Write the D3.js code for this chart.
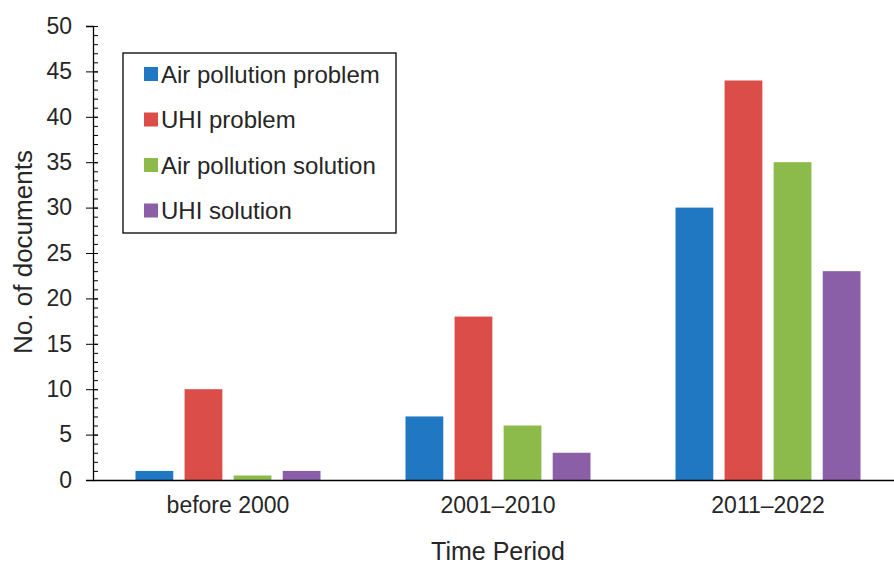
<!DOCTYPE html>
<html>
<head>
<meta charset="utf-8">
<script src="https://cdn.jsdelivr.net/npm/d3@7"></script>
<style>
  body { margin: 0; background: #fff; }
  text { font-family: "Liberation Sans", Arial, sans-serif; fill: #262626; }
</style>
</head>
<body>
<svg id="chart" width="894" height="564"></svg>
<script>
// data
const periods = ['before 2000', '2001\u20132010', '2011\u20132022']
const seriesNames = ['Air pollution problem', 'UHI problem', 'Air pollution solution', 'UHI solution']
const airProblem = [1, 7, 30]
const uhiProblem = [10, 18, 44]
const airSolution = [0.5, 6, 35]
const uhiSolution = [1, 3, 23]
const seriesColors = ['#1f78c1', '#db4d49', '#8dbb4b', '#8a5fa8']
const yTicks = [0, 5, 10, 15, 20, 25, 30, 35, 40, 45, 50]

const seriesValues = [airProblem, uhiProblem, airSolution, uhiSolution]
const rows = periods.map((p, i) => ({
  period: p,
  values: seriesNames.map((s, j) => ({series: s, value: seriesValues[j][i]}))
}))

const svg = d3.select('#chart')
const margin = {top: 26, left: 93, bottom: 84, right: -9}
const width = +svg.attr('width')
const height = +svg.attr('height')
const visWidth = width - margin.left - margin.right
const visHeight = height - margin.top - margin.bottom

// scales
const xGroup = d3.scaleBand().domain(periods).range([0, visWidth]).paddingOuter(0).paddingInner(0)
const xBar = d3.scaleBand().domain(seriesNames)
  .range([42.5, xGroup.bandwidth() - 42.5])
  .paddingInner(0.23).paddingOuter(0)
const y = d3.scaleLinear().domain([0, 50]).range([visHeight, 0])
const color = d3.scaleOrdinal().domain(seriesNames).range(seriesColors)

const g = svg.append('g').attr('transform', `translate(${margin.left},${margin.top})`)

// bars
const groups = g.selectAll('g.grp')
  .data(rows)
  .join('g')
  .attr('class', 'grp')
  .attr('transform', d => `translate(${xGroup(d.period)},0)`)

groups.selectAll('rect')
  .data(d => d.values)
  .join('rect')
  .attr('x', d => xBar(d.series))
  .attr('width', xBar.bandwidth())
  .attr('y', d => y(d.value))
  .attr('height', d => y(0) - y(d.value))
  .attr('fill', d => color(d.series))

// y axis: minor ticks inside, major ticks crossing
const yMinor = g.append('g')
  .call(d3.axisRight(y).ticks(50).tickSize(5).tickFormat(''))
yMinor.select('.domain').remove()
yMinor.selectAll('line').attr('stroke', '#000')

const yMajor = g.append('g')
  .call(d3.axisLeft(y).tickValues(yTicks).tickSize(7))
yMajor.select('.domain').attr('stroke', '#000').attr('stroke-width', 1.3)
yMajor.selectAll('.tick line').attr('x2', -7).attr('x1', 5).attr('stroke', '#000')
yMajor.selectAll('.tick text').attr('font-size', 23).style('fill', '#262626')
  .attr('x', -21)

// x axis
const xAxis = g.append('g').attr('transform', `translate(0,${visHeight})`)
  .call(d3.axisBottom(xGroup).tickSize(0).tickPadding(17))
xAxis.select('.domain').attr('stroke', '#000').attr('stroke-width', 1.3)
xAxis.selectAll('.tick text').attr('font-size', 23).style('fill', '#262626')

// axis titles
svg.append('text')
  .attr('x', margin.left + xGroup('2001\u20132010') + xGroup.bandwidth() / 2)
  .attr('y', 560)
  .attr('text-anchor', 'middle')
  .attr('font-size', 25)
  .text('Time Period')

svg.append('text')
  .attr('transform', `translate(32,252) rotate(-90)`)
  .attr('text-anchor', 'middle')
  .attr('font-size', 26)
  .text('No. of documents')

// legend
const legend = svg.append('g').attr('transform', 'translate(123,53)')
legend.append('rect')
  .attr('width', 273).attr('height', 180)
  .attr('fill', '#fff').attr('stroke', '#000').attr('stroke-width', 1.3)

const item = legend.selectAll('g.item')
  .data(seriesNames)
  .join('g')
  .attr('class', 'item')
  .attr('transform', (d, i) => `translate(21,${21 + i * 45.5})`)

item.append('rect')
  .attr('y', -7).attr('width', 14).attr('height', 14)
  .attr('fill', d => color(d))
item.append('text')
  .attr('x', 17).attr('dy', '0.36em')
  .attr('font-size', 24)
  .text(d => d)
</script>
</body>
</html>
